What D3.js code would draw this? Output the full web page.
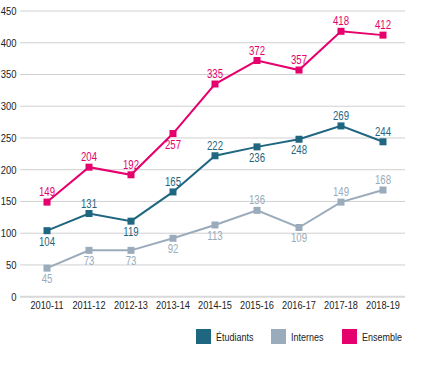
<!DOCTYPE html>
<html><head><meta charset="utf-8">
<script src="https://cdn.jsdelivr.net/npm/d3@7"></script>
<style>
body{margin:0;background:#fff;}
text{font-family:"Liberation Sans",Arial,sans-serif;}
</style></head>
<body><svg id="c" width="430" height="366"></svg>
<script>
const categories = ["2010-11","2011-12","2012-13","2013-14","2014-15","2015-16","2016-17","2017-18","2018-19"];
const etudiants = [104,131,119,165,222,236,248,269,244];
const internes  = [45,73,73,92,113,136,109,149,168];
const ensemble  = [149,204,192,257,335,372,357,418,412];
const yTicks = [0,50,100,150,200,250,300,350,400,450];
// label placement: 1 = above, -1 = below
const etuPos = [-1,1,-1,1,1,-1,-1,1,1];
const intPos = [-1,-1,-1,-1,-1,1,-1,1,1];
const ensPos = [1,1,1,-1,1,1,1,1,1];

const series = [
  {name:"Étudiants", values:etudiants, pos:etuPos, color:"#1f6680"},
  {name:"Internes", values:internes, pos:intPos, color:"#9aabbb"},
  {name:"Ensemble", values:ensemble, pos:ensPos, color:"#e6006e"}
];

const svg = d3.select("#c");
const x = d3.scalePoint().domain(categories).range([47,383]);
const y = d3.scaleLinear().domain([0,450]).range([296.7,11]);

function narrow(sel, r){
  sel.each(function(){
    const w = this.getComputedTextLength();
    d3.select(this).attr("textLength", w*r).attr("lengthAdjust","spacingAndGlyphs");
  });
}

// grid
svg.append("g").selectAll("line").data(yTicks).join("line")
  .attr("x1",20).attr("x2",405)
  .attr("y1",d=>y(d)).attr("y2",d=>y(d))
  .attr("stroke",d=>d===0?"#d9d9d9":"#d0d0d0")
  .attr("stroke-width",d=>d===0?2:1);

// y labels
svg.append("g").selectAll("text").data(yTicks).join("text")
  .attr("x",16.5).attr("y",d=>y(d)+4)
  .attr("text-anchor","end").attr("font-size",11.5).attr("fill","#222")
  .text(d=>d).call(narrow,0.82);

// x labels
svg.append("g").selectAll("text").data(categories).join("text")
  .attr("x",d=>x(d)).attr("y",309)
  .attr("text-anchor","middle").attr("font-size",11.5).attr("fill","#222")
  .text(d=>d).call(narrow,0.8);

const line = d3.line().x((d,i)=>x(categories[i])).y(d=>y(d));

series.forEach(s=>{
  const g = svg.append("g");
  g.append("path").attr("d",line(s.values)).attr("fill","none")
    .attr("stroke",s.color).attr("stroke-width",2);
  g.selectAll("rect").data(s.values).join("rect")
    .attr("x",(d,i)=>x(categories[i])-3.5).attr("y",d=>y(d)-3.5)
    .attr("width",7).attr("height",7).attr("fill",s.color);
  g.selectAll("text").data(s.values).join("text")
    .attr("x",(d,i)=>x(categories[i]))
    .attr("y",(d,i)=>s.pos[i]>0 ? y(d)-6 : y(d)+15)
    .attr("text-anchor","middle").attr("font-size",12).attr("fill",s.color)
    .text(d=>d).call(narrow,0.8);
});

// legend
const legX = [196,271,342];
const lg = svg.append("g").selectAll("g").data(series).join("g")
  .attr("transform",(d,i)=>`translate(${legX[i]},329)`);
lg.append("rect").attr("width",15).attr("height",15).attr("fill",d=>d.color);
lg.append("text").attr("x",20).attr("y",11.5).attr("font-size",11.5).attr("fill","#222")
  .text(d=>d.name).call(narrow,0.78);
</script></body></html>
